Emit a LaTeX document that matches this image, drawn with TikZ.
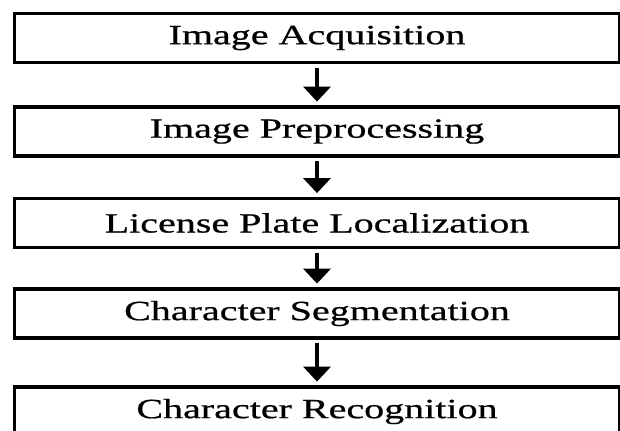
\documentclass[tikz,border=0pt]{standalone}
\usepackage{fontspec}
\setmainfont{Liberation Serif}[FakeStretch=1.44,FakeBold=0.7]
\usetikzlibrary{arrows.meta}

\tikzset{
  stagebox/.style={draw=black, line width=1.6pt, minimum width=302.5pt,
    minimum height=24.5pt, inner sep=0pt, font=\fontsize{13.9}{16}\selectfont},
  flowarrow/.style={line width=2pt, -{Triangle[width=13.5pt,length=7.5pt]},
    shorten <=1.8pt, shorten >=1.9pt},
}

\begin{document}
\begin{tikzpicture}[%
      x=0.5pt, y=-0.5pt,
      ]
      \useasboundingbox (0,0) rectangle (620,431);
      \clip (0,0) rectangle (620,431);

      \node[stagebox] (acq) at (317,38) {Image Acquisition};
      \node[stagebox] (pre) at (317,131.5) {Image Preprocessing};
      \node[stagebox] (loc) at (317,223) {License Plate Localization};
      \node[stagebox] (seg) at (317,313.5) {Character Segmentation};
      \node[stagebox] (rec) at (317,411.5) {Character Recognition};

      \draw[flowarrow] (acq.south) -- (pre.north);
      \draw[flowarrow] (pre.south) -- (loc.north);
      \draw[flowarrow] (loc.south) -- (seg.north);
      \draw[flowarrow] (seg.south) -- (rec.north);
      \end{tikzpicture}
\end{document}
